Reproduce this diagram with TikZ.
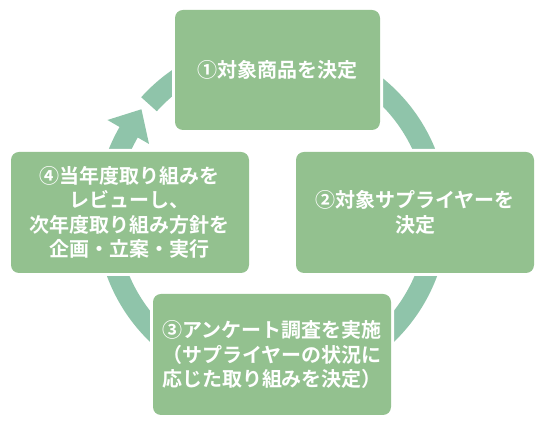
\documentclass[tikz,border=0pt]{standalone}
\usepackage{fontspec}
\newfontfamily\jpfont{Noto Sans CJK JP}[BoldFont={Noto Sans CJK JP Bold}]
\usetikzlibrary{calc}
\definecolor{boxc}{RGB}{147,193,143}
\definecolor{ringc}{RGB}{143,196,170}
\begin{document}
\begin{tikzpicture}[x=0.75pt,y=0.75pt,
  stepbox/.style={fill=boxc, rounded corners=6pt, inner sep=0pt, text=white, align=center,
    font=\jpfont\bfseries\fontsize{15pt}{18.4pt}\selectfont,
    preaction={draw=white,line width=4.5pt}},
  widebox/.style={stepbox, minimum width=178.5pt, minimum height=90.75pt}]
\useasboundingbox (0,0) rectangle (544,431);
\coordinate (c) at (272,216);
\fill[ringc] ($(c)+(138:176)$) arc[start angle=138,end angle=-210,radius=176]
  -- ($(c)+(150:190)$) -- ($(c)+(141:168)$) -- ($(c)+(150:142)$)
  -- ($(c)+(150:155)$) arc[start angle=-210,end angle=138,radius=155] -- cycle;
\node[stepbox, minimum width=153.75pt, minimum height=90pt] (b1) at (277.5,361) {①対象商品を決定};
\node[widebox] (b2) at (415,218.5) {②対象サプライヤーを\\決定};
\node[widebox] (b3) at (272,76.5) {③アンケート調査を実施\\（サプライヤーの状況に\\応じた取り組みを決定）};
\node[widebox] (b4) at (130,218.5) {④当年度取り組みを\\レビューし、\\次年度取り組み方針を\\企画・立案・実行};
\end{tikzpicture}
\end{document}
